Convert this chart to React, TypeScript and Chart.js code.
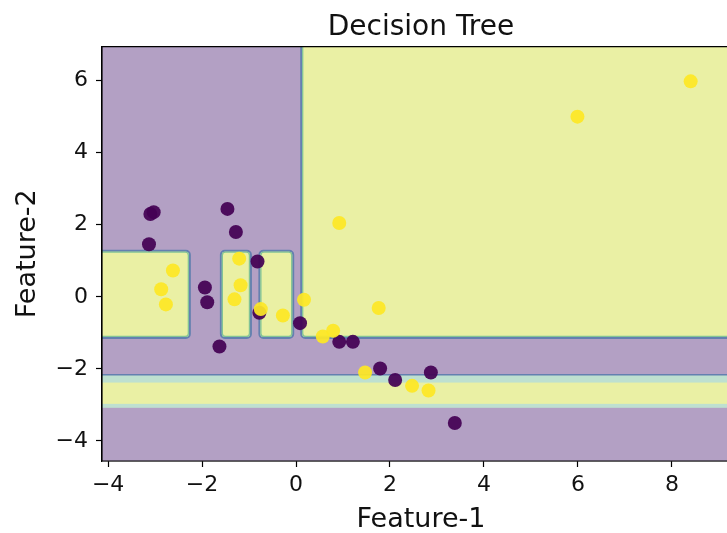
import React, { useEffect, useRef } from "react";
import { Chart, registerables } from "chart.js";

Chart.register(...registerables);

// ---- Data ----
const class0X = [-3.10, -3.03, -3.13, -1.46, -1.28, -0.82, -1.94, -1.89, -0.78, 0.085, -1.63, 0.92, 1.21, 1.79, 2.11, 2.87, 3.38];
const class0Y = [2.30, 2.35, 1.46, 2.44, 1.80, 0.98, 0.26, -0.15, -0.44, -0.73, -1.38, -1.25, -1.25, -1.99, -2.31, -2.10, -3.50];
const class1X = [-2.62, -2.87, -2.77, -1.21, -1.18, -1.31, -0.75, -0.28, 0.17, 0.92, 1.76, 0.57, 0.79, 1.47, 2.47, 2.82, 5.99, 8.40];
const class1Y = [0.73, 0.21, -0.21, 1.06, 0.32, -0.07, -0.34, -0.52, -0.08, 2.05, -0.31, -1.10, -0.94, -2.10, -2.47, -2.60, 5.00, 5.98];

// Decision regions predicted as class 1 (rectangles in data coords)
const regionX0 = [0.11, -4.6, -1.60, -0.78];
const regionX1 = [9.9, -2.26, -0.96, -0.06];
const regionY0 = [-1.14, -1.14, -1.14, -1.14];
const regionY1 = [7.5, 1.28, 1.28, 1.28];
// Horizontal class-1 band
const bandOuter = [-3.08, -2.16];
const bandInner = [-2.97, -2.38];

const xTicks = [-4, -2, 0, 2, 4, 6, 8];
const yTicks = [-4, -2, 0, 2, 4, 6];
const xRange = [-4.13, 9.45];
const yRange = [-4.556, 6.944];

const TITLE = "Decision Tree";
const X_LABEL = "Feature-1";
const Y_LABEL = "Feature-2";

// ---- Styles ----
const BG_PURPLE = "rgb(179,160,196)";
const BG_YELLOW = "rgb(234,240,164)";
const EDGE_BLUE = "rgb(100,128,176)";
const EDGE_GREEN = "rgb(130,195,150)";
const BAND_CYAN = "rgb(190,224,208)";
const DOT_PURPLE = "rgba(68,1,84,0.93)";
const DOT_YELLOW = "rgba(253,231,37,0.93)";
const FONT = "'DejaVu Sans', sans-serif";

const fmt = (v: number) => (v < 0 ? "\u2212" + Math.abs(v) : String(v));

const regionsPlugin = {
  id: "regions",
  beforeDatasetsDraw(chart: any) {
    const { ctx, chartArea: a, scales } = chart;
    const x = scales.x;
    const y = scales.y;
    ctx.save();
    ctx.beginPath();
    ctx.rect(a.left, a.top, a.right - a.left, a.bottom - a.top);
    ctx.clip();
    ctx.fillStyle = BG_PURPLE;
    ctx.fillRect(a.left, a.top, a.right - a.left, a.bottom - a.top);

    // band
    const bt = y.getPixelForValue(bandOuter[1]);
    const bb = y.getPixelForValue(bandOuter[0]);
    ctx.fillStyle = BAND_CYAN;
    ctx.fillRect(a.left - 10, bt, a.right - a.left + 20, bb - bt);
    const it = y.getPixelForValue(bandInner[1]);
    const ib = y.getPixelForValue(bandInner[0]);
    ctx.fillStyle = BG_YELLOW;
    ctx.fillRect(a.left - 10, it, a.right - a.left + 20, ib - it);
    ctx.strokeStyle = EDGE_BLUE;
    ctx.lineWidth = 1.5;
    ctx.beginPath();
    ctx.moveTo(a.left - 10, bt);
    ctx.lineTo(a.right + 10, bt);
    ctx.stroke();

    for (let i = 0; i < regionX0.length; i++) {
      const l = x.getPixelForValue(regionX0[i]);
      const r = x.getPixelForValue(regionX1[i]);
      const t = y.getPixelForValue(regionY1[i]);
      const b = y.getPixelForValue(regionY0[i]);
      ctx.beginPath();
      ctx.roundRect(l, t, r - l, b - t, 4);
      ctx.fillStyle = BG_YELLOW;
      ctx.fill();
      ctx.lineWidth = 2;
      ctx.strokeStyle = EDGE_BLUE;
      ctx.stroke();
      ctx.beginPath();
      ctx.roundRect(l + 1.5, t + 1.5, r - l - 3, b - t - 3, 3);
      ctx.lineWidth = 1.3;
      ctx.strokeStyle = EDGE_GREEN;
      ctx.stroke();
    }
    ctx.restore();
  },
  afterDraw(chart: any) {
    const { ctx, chartArea: a } = chart;
    ctx.save();
    ctx.strokeStyle = "#000";
    ctx.lineWidth = 1.2;
    ctx.beginPath();
    ctx.moveTo(a.left, a.bottom);
    ctx.lineTo(a.left, a.top);
    ctx.lineTo(a.right + 5, a.top);
    ctx.moveTo(a.left, a.bottom);
    ctx.lineTo(a.right + 5, a.bottom);
    ctx.stroke();
    ctx.restore();
  },
};

export default function App() {
  const ref = useRef<HTMLCanvasElement>(null);
  useEffect(() => {
    if (!ref.current) return;
    const chart = new Chart(ref.current, {
      type: "scatter",
      data: {
        datasets: [
          {
            label: "class 1",
            data: class1X.map((v, i) => ({ x: v, y: class1Y[i] })),
            backgroundColor: DOT_YELLOW,
            borderWidth: 0,
            pointRadius: 7,
            order: 0,
          },
          {
            label: "class 0",
            data: class0X.map((v, i) => ({ x: v, y: class0Y[i] })),
            backgroundColor: DOT_PURPLE,
            borderWidth: 0,
            pointRadius: 7,
            order: 1,
          },
        ],
      },
      options: {
        responsive: false,
        animation: false,
        devicePixelRatio: 1,
        layout: { padding: 0 },
        plugins: {
          legend: { display: false },
          tooltip: { enabled: false },
          title: {
            display: true,
            text: TITLE,
            fullSize: false,
            color: "#111",
            font: { family: FONT, size: 28, weight: "normal" },
            padding: { top: 11, bottom: 2 },
          },
        },
        scales: {
          x: {
            type: "linear",
            min: xRange[0],
            max: xRange[1],
            afterBuildTicks: (s: any) => {
              s.ticks = xTicks.map((v) => ({ value: v }));
            },
            afterFit: (s: any) => {
              s.height = 72;
              s.paddingLeft = 0;
              s.paddingRight = 0;
            },
            ticks: {
              color: "#111",
              font: { family: FONT, size: 22 },
              padding: 5,
              maxRotation: 0,
              callback: (v: any) => fmt(Number(v)),
            },
            grid: {
              display: true,
              drawOnChartArea: false,
              drawTicks: true,
              tickLength: 6,
              tickColor: "#000",
              tickWidth: 1.2,
            },
            border: { display: true, color: "#000", width: 1.2 },
            title: {
              display: true,
              text: X_LABEL,
              color: "#111",
              font: { family: FONT, size: 27 },
              padding: { top: 0, bottom: -3 },
            },
          },
          y: {
            type: "linear",
            min: yRange[0],
            max: yRange[1],
            afterBuildTicks: (s: any) => {
              s.ticks = yTicks.map((v) => ({ value: v }));
            },
            afterFit: (s: any) => {
              s.width = 102;
              s.paddingTop = 0;
              s.paddingBottom = 0;
            },
            ticks: {
              color: "#111",
              font: { family: FONT, size: 22 },
              padding: 8,
              callback: (v: any) => fmt(Number(v)),
            },
            grid: {
              display: true,
              drawOnChartArea: false,
              drawTicks: true,
              tickLength: 6,
              tickColor: "#000",
              tickWidth: 1.2,
            },
            border: { display: true, color: "#000", width: 1.2 },
            title: {
              display: true,
              text: Y_LABEL,
              color: "#111",
              font: { family: FONT, size: 27 },
              padding: { top: 12, bottom: 0 },
            },
          },
        },
      },
      plugins: [regionsPlugin],
    });
    return () => chart.destroy();
  }, []);

  return (
    <div
      style={{
        position: "fixed",
        left: 0,
        top: 0,
        width: 727,
        height: 533,
        overflow: "hidden",
        background: "#fff",
      }}
    >
      <canvas ref={ref} width={747} height={533} style={{ display: "block" }} />
    </div>
  );
}
